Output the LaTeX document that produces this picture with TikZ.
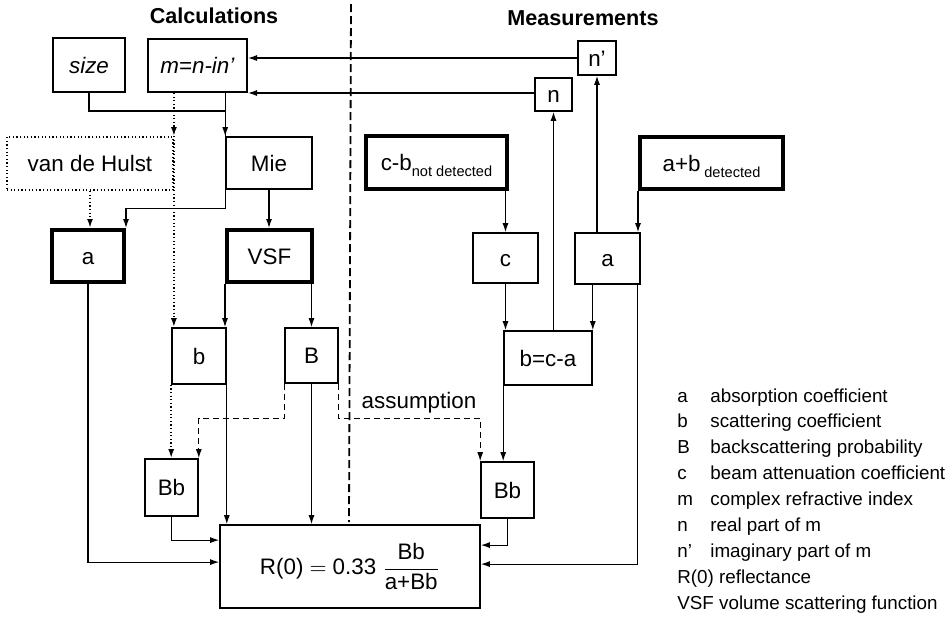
\documentclass[tikz,border=0pt]{standalone}
\usepackage{amsmath}
\usepackage{fontspec}
\setmainfont{Liberation Sans}
\usetikzlibrary{arrows.meta}

\begin{document}
\begin{tikzpicture}[x=0.5pt,y=-0.5pt,
	font=\fontsize{11.2}{13}\selectfont,
	plain/.style={draw,line width=0.8pt,inner sep=0pt},
	box/.style={plain,text height=8.5pt,text depth=0.5pt},
	thickbox/.style={box,line width=2pt},
	dotbox/.style={box,line width=0.9pt,dash pattern=on 0.6pt off 1.2pt},
	line/.style={line width=0.6pt},
	arr/.style={line width=0.6pt,-{Latex[length=4.5pt,width=3pt]}},
	dotarr/.style={arr,line width=0.9pt,dash pattern=on 0.6pt off 1.2pt},
	dasharr/.style={arr,dash pattern=on 3pt off 2pt},
	divider/.style={line width=0.9pt,dash pattern=on 4pt off 2pt},
	heading/.style={font=\fontsize{10.8}{13}\selectfont\bfseries},
	legend/.style={font=\fontsize{9.4}{11}\selectfont,inner sep=0pt,anchor=base west}]
	\useasboundingbox (0,0) rectangle (952,618);
	
	% headings and divider
	\node[heading] (calc) at (214,16) {Calculations};
	\node[heading] (meas) at (583,18) {Measurements};
	\draw[divider] (351,4) -- (349,522);
	
	% calculations
	\node[box,line width=1pt,minimum width=36pt,minimum height=27pt] (size) at (89,65) {\textit{size}};
	\node[box,line width=1pt,minimum width=49.5pt,minimum height=26.5pt] (m) at (197.5,65.5) {\textit{m=n-in'}};
	\node[dotbox,minimum width=83pt,minimum height=26.5pt] (vdh) at (90,163.5) {van de Hulst};
	\node[box,minimum width=43pt,minimum height=26pt] (mie) at (269,163) {Mie};
	\node[thickbox,minimum width=36pt,minimum height=26pt] (al) at (88,256) {a};
	\node[thickbox,minimum width=42.5pt,minimum height=26pt] (vsf) at (269.5,256) {VSF};
	\node[box,minimum width=27pt,minimum height=28pt] (b) at (199,356) {b};
	\node[box,minimum width=26.5pt,minimum height=27.5pt] (B) at (311.5,355.5) {B};
	\node[box,minimum width=26.5pt,minimum height=28.5pt] (bbl) at (171.5,487.5) {Bb};
	\node[plain,minimum width=130pt,minimum height=41.5pt] (R) at (350,566.5)
		{$\text{R(0)} = \text{0.33}\;\dfrac{\text{Bb}}{\text{a+Bb}}$};
	
	% measurements
	\node[box,minimum width=19pt,minimum height=17pt] (np) at (597,58) {n'};
	\node[box,minimum width=18.5pt,minimum height=16.5pt] (n) at (553.5,94.5) {n};
	\node[thickbox,minimum width=70.5pt,minimum height=26.5pt] (cb) at (436.5,162.5)
		{c-b\raisebox{-3pt}{\fontsize{7.3}{8}\selectfont not detected}};
	\node[thickbox,minimum width=71.5pt,minimum height=26pt] (ab) at (711.5,163)
		{a+b\,\raisebox{-3pt}{\fontsize{7.3}{8}\selectfont detected}};
	\node[box,minimum width=32.5pt,minimum height=25pt] (c) at (505.5,258) {c};
	\node[box,minimum width=32.5pt,minimum height=25.5pt] (ar) at (607.5,258.5) {a};
	\node[box,minimum width=44pt,minimum height=27pt] (bca) at (548,358) {b=c-a};
	\node[box,minimum width=26.5pt,minimum height=28pt] (bbr) at (507.5,490) {Bb};
	
	% connectors, left
	\draw[line] (size.south) -- ++(0,18) -| (mie.north west);
	\draw[arr] (m.south -| mie.west) -- (mie.north west);
	\draw[dotarr] (m.south -| vdh.east) -- (vdh.north east);
	\draw[dotarr] (vdh.north east) -- (vdh.north east |- b.north);
	\draw[dotarr] (b.south west) -- (b.south west |- bbl.north);
	\draw[dotarr] (vdh.south) -- (vdh.south |- al.north);
	\draw[arr] (mie.south west) -- ++(0,19) -| (al.north east);
	\draw[arr] (mie.south) -- (mie.south |- vsf.north);
	\draw[arr] (vsf.south west) -- (vsf.south west |- b.north);
	\draw[arr] (b.south east) -- (b.south east |- R.north);
	\draw[arr] (vsf.south -| B.north) -- (B.north);
	\draw[arr] (B.south) -- (B.south |- R.north);
	\draw[dasharr] (B.south west) -- ++(0,35) -| (bbl.north east);
	\draw[dasharr] (B.south east) -- ++(0,35) -| (bbr.north west);
	\node (assum) at (419,403) {assumption};
	\draw[arr] (bbl.south) |- ([yshift=13.2pt]R.west);
	\draw[arr] (al.south) |- ([yshift=2.2pt]R.west);
	
	% connectors, right
	\draw[arr] (np.west) -- (np.west -| m.east);
	\draw[arr] (n.west |- m.south east) -- (m.south east);
	\draw[arr] (ar.north -| np.south) -- (np.south);
	\draw[arr] (bca.north -| n.south) -- (n.south);
	\draw[arr] (cb.south -| c.north) -- (c.north);
	\draw[arr] (ab.south west) -- (ab.south west |- ar.north);
	\draw[arr] (c.south) -- (c.south |- bca.north);
	\draw[arr] (ar.south -| bca.east) -- (bca.north east);
	\draw[arr] (bca.south west) -- (bca.south west |- bbr.north);
	\draw[arr] (bbr.south) |- ([yshift=10.7pt]R.east);
	\draw[arr] ([xshift=-1.5pt]ar.south east) |- ([yshift=1.2pt]R.east);
	
	% legend
	\foreach \s/\t [count=\i from 0] in {a/absorption coefficient,b/scattering coefficient,
		B/backscattering probability,c/beam attenuation coefficient,m/complex refractive index,
		n/real part of m,n'/imaginary part of m}{
		\node[legend] (sym\i) at (677,{402+25.9*\i}) {\s};
		\node[legend] (txt\i) at (710,{402+25.9*\i}) {\t};
	}
	\node[legend] (leg7) at (677,{402+25.9*7}) {R(0) reflectance};
	\node[legend] (leg8) at (677,{402+25.9*8}) {VSF volume scattering function};
\end{tikzpicture}
\end{document}
